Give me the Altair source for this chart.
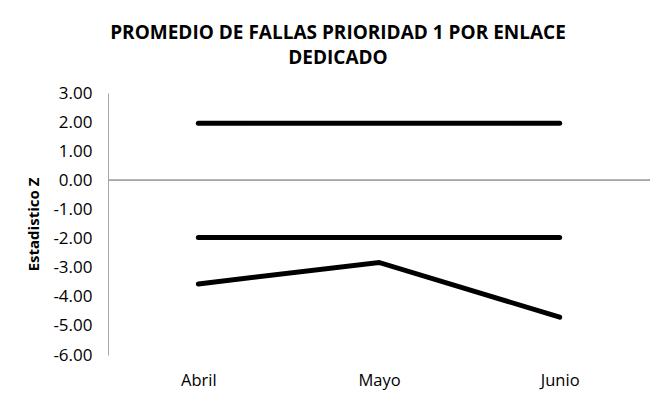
import altair as alt
import pandas as pd

meses = ["Abril", "Mayo", "Junio"]
limite_superior = [1.96, 1.96, 1.96]
limite_inferior = [-1.96, -1.96, -1.96]
estadistico_z = [-3.56, -2.82, -4.70]
series = ["Límite superior", "Límite inferior", "Estadístico Z"]
y_ticks = [-6, -5, -4, -3, -2, -1, 0, 1, 2, 3]

rows = []
for nombre, valores in zip(series, [limite_superior, limite_inferior, estadistico_z]):
    for m, v in zip(meses, valores):
        rows.append({"Mes": m, "Z": v, "Serie": nombre})
df = pd.DataFrame(rows)

FONT = "Open Sans"

y_axis = alt.Axis(
    title="Estadistico Z", values=y_ticks, format=".2f",
    labelExpr="replace(datum.label, '\u2212', '-')", labelOverlap=False,
    grid=False, ticks=False, tickSize=0, domain=True, domainColor="#a6a6a6",
    domainWidth=1, labelPadding=16, labelFontSize=17, labelFont=FONT,
    labelColor="#000000", titleFont=FONT, titleFontSize=15, titleFontWeight="bold",
    titleColor="#000000", titlePadding=11,
)
y_scale = alt.Scale(domain=[-6, 3], nice=False, zero=False)

x = alt.X(
    "Mes:N",
    sort=meses,
    scale=alt.Scale(type="point", padding=0.5),
    axis=alt.Axis(
        title=None, domain=False, ticks=False, tickSize=0, labelAngle=0,
        labelPadding=17, labelFontSize=16.5, labelFont=FONT, labelColor="#000000",
        grid=False,
    ),
)

zero = alt.Chart(df).mark_rule(color="#a6a6a6", strokeWidth=1).encode(
    y=alt.Y(datum=0, type="quantitative", scale=y_scale, axis=y_axis)
)

lines = alt.Chart(df).mark_line(color="#000000", strokeWidth=5, strokeCap="round", strokeJoin="miter").encode(
    x=x, y=alt.Y("Z:Q", scale=y_scale, axis=y_axis), detail="Serie:N"
)

chart = alt.layer(zero, lines).properties(
    width=542,
    height=262,
    autosize=alt.AutoSizeParams(type="none"),
    padding={"left": 100, "top": 85, "right": 8, "bottom": 37},
    title=alt.Title(
        ["PROMEDIO DE FALLAS PRIORIDAD 1 POR ENLACE", "DEDICADO"],
        font=FONT, fontSize=19, fontWeight="bold", color="#000000",
        anchor="middle", frame="group", dx=-41, offset=16, lineHeight=25,
    ),
).configure(background="#ffffff", view=alt.ViewConfig(stroke=None))

chart.save("out.html", embed_options={"renderer": "svg", "actions": False})
